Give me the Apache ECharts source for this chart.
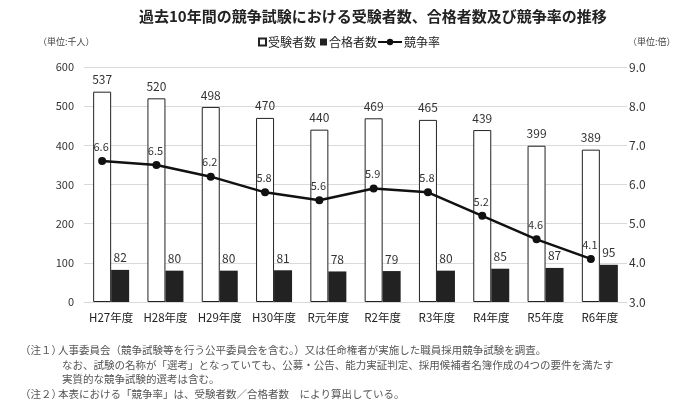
<!DOCTYPE html>
<html><head><meta charset="utf-8">
<script src="https://cdn.jsdelivr.net/npm/echarts@6/dist/echarts.min.js"></script>
<style>html,body{margin:0;padding:0;background:#fff}#c{width:700px;height:405px}</style>
</head><body><div id="c"></div>
<script>
const categories = ['H27年度','H28年度','H29年度','H30年度','R元年度','R2年度','R3年度','R4年度','R5年度','R6年度'];
const applicants = [537,520,498,470,440,469,465,439,399,389];
const passers = [82,80,80,81,78,79,80,85,87,95];
const ratio = [6.6,6.5,6.2,5.8,5.6,5.9,5.8,5.2,4.6,4.1];
const noteHeads = ['（注１）','（注２）'];
const notes = [
  '人事委員会（競争試験等を行う公平委員会を含む。）又は任命権者が実施した職員採用競争試験を調査。',
  'なお、試験の名称が「選考」となっていても、公募・公告、能力実証判定、採用候補者名簿作成の4つの要件を満たす',
  '実質的な競争試験的選考は含む。',
  '本表における「競争率」は、受験者数／合格者数　により算出している。'
];
const FONT = '"Noto Sans CJK JP", "Noto Sans", sans-serif';
const chart = echarts.init(document.getElementById('c'), null, {renderer:'canvas'});
const gridTop = 67, gridBottom = 103, gLeft = 84, gRight = 73, shift = 9;
const noteStyle = {fontSize:10.5,fill:'#555',fontFamily:FONT};
chart.setOption({
  animation:false,
  textStyle:{fontFamily:FONT},
  title:{text:'過去10年間の競争試験における受験者数、合格者数及び競争率の推移',left:134,top:4,
    textStyle:{fontSize:15,fontWeight:'bold',color:'#222',fontFamily:FONT}},
  legend:[
    {data:['受験者数','合格者数'],left:253,top:31,itemWidth:7,itemHeight:7,itemGap:4,
      textStyle:{fontSize:12,color:'#222',padding:[0,0,0,-3]},icon:'rect'},
    {data:['競争率'],left:372,top:31,itemWidth:24,itemHeight:8,textStyle:{fontSize:12,color:'#222',padding:[0,0,0,-3]}}
  ],
  graphic:[
    {type:'text',left:38,top:37,style:{text:'（単位:千人）',fontSize:9,fill:'#444',fontFamily:FONT}},
    {type:'text',left:628,top:37,style:{text:'（単位:倍）',fontSize:9,fill:'#444',fontFamily:FONT}},
    {type:'text',left:20,top:345,style:Object.assign({text:noteHeads[0]},noteStyle)},
    {type:'text',left:58,top:345,style:Object.assign({text:notes[0]},noteStyle)},
    {type:'text',left:62,top:360,style:Object.assign({text:notes[1]},noteStyle)},
    {type:'text',left:62,top:374,style:Object.assign({text:notes[2]},noteStyle)},
    {type:'text',left:20,top:389,style:Object.assign({text:noteHeads[1]},noteStyle)},
    {type:'text',left:58,top:389,style:Object.assign({text:notes[3]},noteStyle)}
  ],
  grid:[
    {left:gLeft,right:gRight,top:gridTop,bottom:gridBottom},
    {left:gLeft-shift,right:gRight+shift,top:gridTop,bottom:gridBottom}
  ],
  xAxis:[
    {type:'category',data:categories,gridIndex:0,axisTick:{show:false},
      axisLine:{lineStyle:{color:'#d9d9d9'}},
      axisLabel:{fontSize:11.5,color:'#222',margin:10,interval:0}},
    {type:'category',data:categories,gridIndex:1,show:false}
  ],
  yAxis:[
    {type:'value',gridIndex:0,min:0,max:600,interval:100,
      axisLabel:{fontSize:11,color:'#333',margin:10},
      splitLine:{lineStyle:{color:'#d9d9d9'}},axisLine:{show:false},axisTick:{show:false}},
    {type:'value',gridIndex:0,position:'right',min:3,max:9,interval:1,
      axisLabel:{fontSize:12,color:'#333',margin:2,formatter:v=>v.toFixed(1)},
      splitLine:{show:false},axisLine:{show:false},axisTick:{show:false}},
    {type:'value',gridIndex:1,min:3,max:9,interval:1,show:false}
  ],
  series:[
    {name:'受験者数',type:'bar',xAxisIndex:0,yAxisIndex:0,data:applicants,barWidth:18,barGap:'0%',
      itemStyle:{color:'#fff',borderColor:'#222',borderWidth:1},
      label:{show:true,position:'top',distance:6,fontSize:12,color:'#333'}},
    {name:'合格者数',type:'bar',xAxisIndex:0,yAxisIndex:0,data:passers,barWidth:18,barGap:'0%',
      itemStyle:{color:'#222'},
      label:{show:true,position:'top',distance:6,fontSize:12,color:'#333'}},
    {name:'競争率',type:'line',xAxisIndex:1,yAxisIndex:2,data:ratio,
      symbol:'circle',symbolSize:8,lineStyle:{color:'#111',width:2.5},itemStyle:{color:'#111'},
      label:{show:true,position:'top',distance:5,fontSize:11,color:'#333',offset:[-1,0],formatter:p=>p.value.toFixed(1)}}
  ]
});
</script></body></html>
